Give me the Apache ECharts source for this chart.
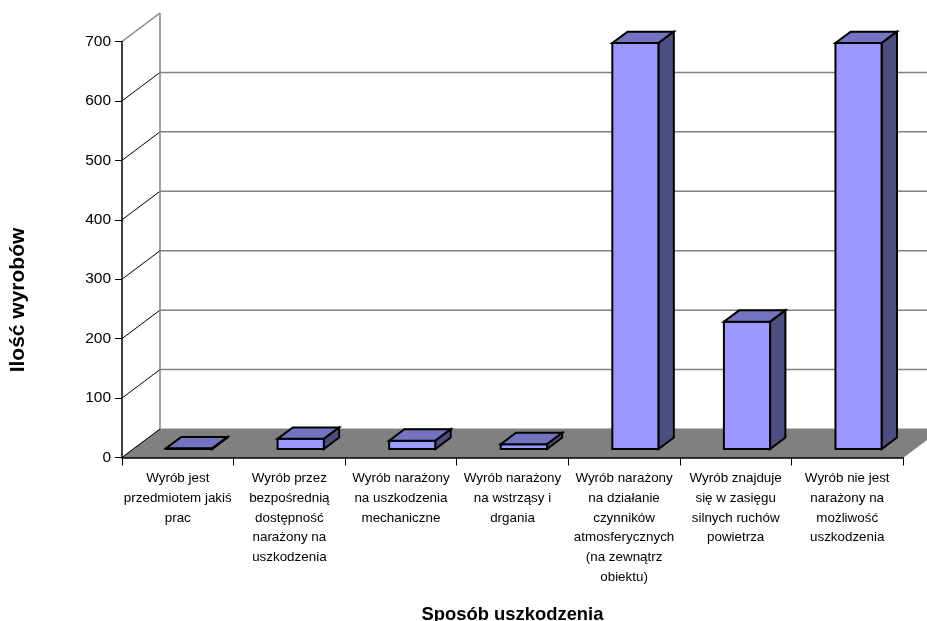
<!DOCTYPE html>
<html>
<head>
<meta charset="utf-8">
<style>html,body{margin:0;padding:0;background:#fff}#chart{width:927px;height:621px}</style>
<script src="https://cdn.jsdelivr.net/npm/echarts@6/dist/echarts.min.js"></script>
</head>
<body>
<div id="chart"></div>
<script>
// Product counts by type of damage exposure, drawn as a pseudo-3D column chart
const categories = [
  'Wyrób jest\nprzedmiotem jakiś\nprac',
  'Wyrób przez\nbezpośrednią\ndostępność\nnarażony na\nuszkodzenia',
  'Wyrób narażony\nna uszkodzenia\nmechaniczne',
  'Wyrób narażony\nna wstrząsy i\ndrgania',
  'Wyrób narażony\nna działanie\nczynników\natmosferycznych\n(na zewnątrz\nobiektu)',
  'Wyrób znajduje\nsię w zasięgu\nsilnych ruchów\npowietrza',
  'Wyrób nie jest\nnarażony na\nmożliwość\nuszkodzenia'
];
const counts = [1, 17, 14, 8, 683, 214, 683];
const gridValues = [100, 200, 300, 400, 500, 600];
const wallValues = [0, 100, 200, 300, 400, 500, 600, 700];

// Oblique projection of the depth axis, in pixels
const DEPTH_X = 38, DEPTH_Y = -28.5;
const BAR_NEAR = 0.3, BAR_FAR = 0.7, BAR_WIDTH = 0.415;
const GREY = '#808080';

const chart = echarts.init(document.getElementById('chart'));

const shift = (p, d) => [p[0] + DEPTH_X * d, p[1] + DEPTH_Y * d];

// Point at a fractional position across a category band
function at(api, i, offset, v) {
  const c = api.coord([i, v]);
  return [c[0] + offset * api.size([1, 0])[0], c[1]];
}
function poly(points, fill, stroke, width) {
  return { type: 'polygon', shape: { points }, style: { fill, stroke, lineWidth: width, lineJoin: 'miter' } };
}
function seg(a, b, stroke, width) {
  return { type: 'line', shape: { x1: a[0], y1: a[1], x2: b[0], y2: b[1] }, style: { stroke, lineWidth: width } };
}

const option = {
  animation: false,
  backgroundColor: '#ffffff',
  textStyle: { fontFamily: '"Liberation Sans", Arial, sans-serif' },
  grid: { left: 122, right: 24, top: 41.5, bottom: 163.5, outerBoundsMode: 'none' },
  graphic: [{
    // Value-axis title sits below the axis midpoint
    type: 'text',
    x: 18, y: 300,
    rotation: Math.PI / 2,
    style: {
      text: 'Ilość wyrobów',
      align: 'center', verticalAlign: 'middle',
      fill: '#000',
      font: 'bold 21px "Liberation Sans", Arial, sans-serif'
    }
  }],
  xAxis: {
    type: 'category',
    data: categories,
    z: 6,
    name: 'Sposób uszkodzenia',
    nameLocation: 'middle',
    nameGap: 148,
    nameTextStyle: { fontSize: 18.4, fontWeight: 'bold', color: '#000' },
    axisLine: { lineStyle: { color: '#000', width: 1.5 } },
    axisTick: { show: true, interval: 0, length: 8, lineStyle: { color: '#000', width: 1 } },
    axisLabel: { interval: 0, fontSize: 13.4, color: '#000', lineHeight: 19.8, margin: 11, verticalAlign: 'top' }
  },
  yAxis: {
    type: 'value',
    min: 0, max: 700, interval: 100,
    z: 6,
    axisLine: { show: true, lineStyle: { color: '#000', width: 1.5 } },
    axisTick: { show: true, length: 7, lineStyle: { color: '#000', width: 1 } },
    axisLabel: { fontSize: 15.5, color: '#000', margin: 11 },
    splitLine: { show: false }
  },
  series: [
    {
      // Floor of the plot box
      type: 'custom', silent: true, z: 1,
      data: [[0]],
      renderItem: (p, api) => {
        const a = at(api, 0, -0.5, 0), b = at(api, 6, 0.5, 0);
        return poly([a, b, shift(b, 1), shift(a, 1)], GREY, GREY, 1);
      }
    },
    {
      // Back-wall gridlines
      type: 'custom', silent: true, z: 1,
      data: gridValues.map(v => [v]),
      renderItem: (p, api) => {
        const v = api.value(0);
        return seg(shift(at(api, 0, -0.5, v), 1), shift(at(api, 6, 0.5, v), 1), GREY, 1.5);
      }
    },
    {
      // Side-wall edges running from the value axis to the back wall
      type: 'custom', silent: true, z: 2,
      data: wallValues.map(v => [v]),
      renderItem: (p, api) => {
        const v = api.value(0), c = at(api, 0, -0.5, v);
        return seg(c, shift(c, 1), v === 700 ? GREY : '#000', v === 700 ? 1.5 : 1);
      }
    },
    {
      // Back-left corner of the wall
      type: 'custom', silent: true, z: 2,
      data: [[0]],
      renderItem: (p, api) => seg(shift(at(api, 0, -0.5, 0), 1), shift(at(api, 0, -0.5, 700), 1), GREY, 1.5)
    },
    {
      // Columns: front, top and side faces
      type: 'custom', silent: true, z: 3,
      encode: { x: 0, y: 1 },
      data: counts.map((v, i) => [i, v]),
      renderItem: (p, api) => {
        const i = api.value(0), v = api.value(1);
        const hw = BAR_WIDTH / 2;
        const fl = shift(at(api, i, -hw, v), BAR_NEAR);
        const fr = shift(at(api, i, hw, v), BAR_NEAR);
        const bl = shift(at(api, i, -hw, 0), BAR_NEAR);
        const br = shift(at(api, i, hw, 0), BAR_NEAR);
        const d = BAR_FAR - BAR_NEAR;
        return {
          type: 'group',
          children: [
            poly([fl, fr, br, bl], '#9999ff', '#000', 2),
            poly([fl, fr, shift(fr, d), shift(fl, d)], '#7373bf', '#000', 2),
            poly([fr, br, shift(br, d), shift(fr, d)], '#4d4d80', '#000', 2)
          ]
        };
      }
    }
  ]
};
chart.setOption(option);
</script>
</body>
</html>
